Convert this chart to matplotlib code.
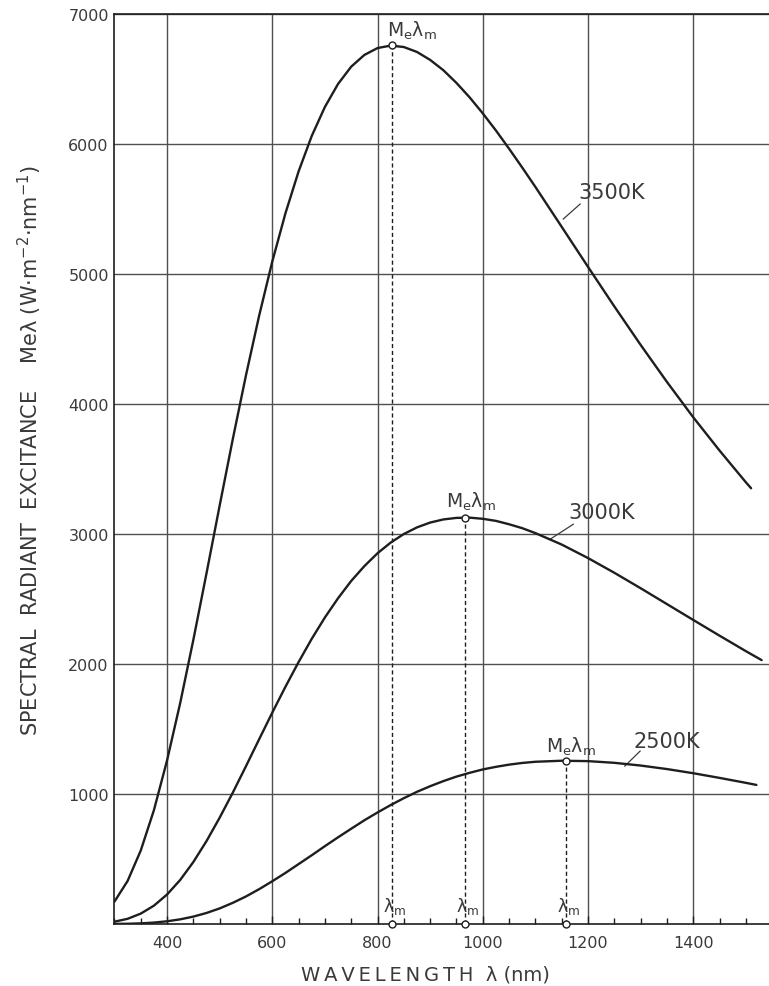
import matplotlib
matplotlib.use("Agg")
import matplotlib.pyplot as plt
from matplotlib.ticker import MultipleLocator, FixedLocator, NullFormatter

# wavelength (nm) and spectral radiant excitance (W m-2 nm-1)
wl = [300, 325, 350, 375, 400, 425, 450, 475, 500, 525, 550, 575, 600, 625, 650,
      675, 700, 725, 750, 775, 800, 825, 850, 875, 900, 925, 950, 975, 1000,
      1025, 1050, 1075, 1100, 1150, 1200, 1250, 1300, 1350, 1400, 1450, 1500]

wl_3500 = wl + [1510]
m_3500 = [172, 331, 565, 875, 1258, 1700, 2186, 2698, 3219, 3731, 4221, 4679, 5096,
          5467, 5789, 6062, 6285, 6462, 6595, 6685, 6738, 6757, 6746, 6708, 6647,
          6568, 6470, 6359, 6236, 6104, 5964, 5819, 5670, 5363, 5055, 4751, 4455,
          4170, 3898, 3642, 3398, 3352]

wl_3000 = wl + [1530]
m_3000 = [18, 40, 80, 141, 227, 339, 477, 638, 818, 1011, 1214, 1421, 1626, 1825,
          2015, 2194, 2358, 2506, 2639, 2753, 2852, 2934, 3000, 3051, 3088, 3112,
          3124, 3126, 3117, 3101, 3075, 3045, 3007, 2919, 2815, 2702, 2583, 2461,
          2339, 2218, 2099, 2030]

wl_2500 = wl + [1520]
m_2500 = [1, 2, 5, 11, 21, 36, 57, 85, 120, 163, 212, 268, 329, 393, 461, 529, 599,
          667, 733, 798, 858, 915, 968, 1017, 1060, 1099, 1134, 1163, 1189, 1209,
          1226, 1239, 1248, 1256, 1253, 1240, 1219, 1192, 1160, 1124, 1086, 1070]

# peak points (lambda_m, Me lambda_m)
peak_wl = [828, 966, 1159]
peak_val = [6760, 3125, 1256]

temps = ["3500K", "3000K", "2500K"]
x_ticks = [400, 600, 800, 1000, 1200, 1400]
y_ticks = [1000, 2000, 3000, 4000, 5000, 6000, 7000]

INK = "#1e1e1e"
TXT = "#3a3a3a"
GRID = "#505050"

fig = plt.figure(figsize=(7.69, 9.87), dpi=100)
ax = fig.add_axes([0.1488, 0.0628, 0.8512, 0.922])

for x, y in [(wl_3500, m_3500), (wl_3000, m_3000), (wl_2500, m_2500)]:
    ax.plot(x, y, color=INK, lw=1.7, solid_capstyle="round", solid_joinstyle="round", zorder=3)

# dashed drops from each maximum
for px, pv in zip(peak_wl, peak_val):
    ax.plot([px, px], [0, pv], color=INK, lw=1.0, ls=(0, (3, 2)), zorder=2)
    ax.plot([px, px], [pv, 0], ls="none", marker="o", ms=5, mfc="white",
            mec=INK, mew=1.0, zorder=4, clip_on=False)
    ax.text(px + 5, 140, r"λ$_\mathrm{m}$", ha="center", va="center", fontsize=12.5,
            color=TXT, zorder=5)

# M_e lambda_m labels
for tx, ty in [(866, 6880), (978, 3254), (1168, 1369)]:
    ax.text(tx, ty, r"M$_\mathrm{e}$λ$_\mathrm{m}$", ha="center", va="center",
            fontsize=13.5, color=TXT)

# temperature labels with leaders
lab_pos = [(1181, 5630), (1163, 3170), (1286, 1408)]
lead = [((1153, 5423), (1185, 5538)), ((1128, 2960), (1172, 3075)), ((1270, 1215), (1299, 1330))]
for t, (tx, ty), (p0, p1) in zip(temps, lab_pos, lead):
    ax.text(tx, ty, t, ha="left", va="center", fontsize=15, color=TXT)
    ax.plot([p0[0], p1[0]], [p0[1], p1[1]], color=TXT, lw=0.9)

ax.set_xlim(300, 1544)
ax.set_ylim(0, 7000)

ax.xaxis.set_major_locator(FixedLocator(x_ticks))
ax.xaxis.set_minor_locator(MultipleLocator(50))
ax.xaxis.set_minor_formatter(NullFormatter())
ax.yaxis.set_major_locator(FixedLocator(y_ticks))

ax.grid(True, which="major", color=GRID, lw=1.0)
ax.tick_params(axis="x", which="major", direction="in", length=6, width=1.0,
               color=INK, labelsize=11.5, labelcolor=TXT, pad=8)
ax.tick_params(axis="x", which="minor", direction="in", length=4, width=1.0, color=INK)
ax.tick_params(axis="y", length=0, labelsize=11.5, labelcolor=TXT, pad=4)

for s in ["left", "bottom", "top"]:
    ax.spines[s].set_color(INK)
    ax.spines[s].set_linewidth(1.2)
ax.spines["right"].set_visible(False)

th = "\u2009"
fig.text(0.553, 0.012, th.join("WAVELENGTH") + "  λ (nm)", ha="center", va="center",
         fontsize=14, color=TXT)
fig.text(0.039, 0.544, "SPECTRAL  RADIANT  EXCITANCE    Meλ (W·m$^{-2}$·nm$^{-1}$)",
         ha="center", va="center", rotation=90, fontsize=15, color=TXT)

fig.savefig("out.png", dpi=100)
